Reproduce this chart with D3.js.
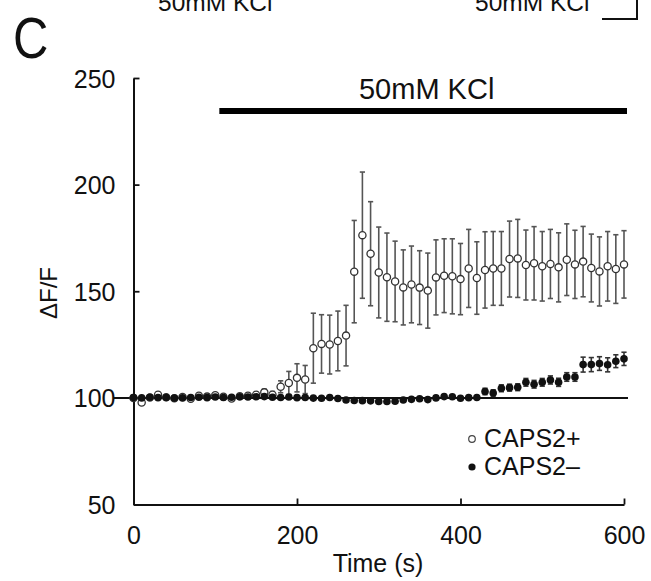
<!DOCTYPE html>
<html><head><meta charset="utf-8">
<script src="https://cdn.jsdelivr.net/npm/d3@7/dist/d3.min.js"></script>
<style>body{margin:0;background:#fff}svg{display:block}text{font-family:"Liberation Sans",Arial,Helvetica,sans-serif;fill:#111}</style>
</head><body>
<script>
// ---- data ----
const times = [0,10,20,30,40,50,60,70,80,90,100,110,120,130,140,150,160,170,180,190,200,210,220,230,240,250,260,270,280,290,300,310,320,330,340,350,360,370,380,390,400,410,420,430,440,450,460,470,480,490,500,510,520,530,540,550,560,570,580,590,600];
const capsPlus = [100.0,97.8,100.2,101.5,100.3,99.8,100.4,99.6,101.0,100.6,101.2,100.5,99.7,100.8,101.0,101.5,102.6,101.5,105.2,107.0,109.4,108.6,123.3,125.3,125.0,126.7,129.2,159.2,176.3,167.6,158.8,156.6,154.6,151.8,153.2,151.7,150.3,156.5,157.3,157.0,155.7,160.7,156.2,160.0,160.7,160.7,165.1,165.4,162.3,163.1,161.7,162.8,161.2,164.8,162.6,163.9,160.9,159.3,161.7,160.4,162.6];
const capsPlusErr = [1,1,1,1,1,1,1,1,1,1,1,1,1,1,1,1,1.5,1.5,2.8,5.4,6.6,6.6,16.4,13.7,13.8,14.0,14.2,24.0,29.6,24.4,21.3,20.7,18.9,17.6,18.0,17.3,17.6,17.6,17.3,17.6,16.7,18.3,17.0,17.9,17.3,17.3,17.8,18.3,16.4,17.2,16.3,16.2,16.2,16.8,16.0,16.5,15.9,16.2,16.3,16.1,15.8];
const capsMinus = [100.2,100.0,100.3,100.1,100.2,99.9,100.0,100.2,100.3,100.1,100.4,100.2,100.3,100.5,100.4,100.5,100.6,100.3,100.2,100.4,100.1,100.2,99.9,99.8,100.2,99.7,99.0,98.8,98.7,98.6,98.3,98.3,98.4,99.0,99.3,99.6,99.2,100.0,100.6,100.5,99.8,100.1,100.2,103.0,102.3,104.5,104.8,105.0,107.3,106.4,107.3,108.4,107.3,109.8,109.8,115.6,115.6,116.1,115.5,117.2,118.3];
const capsMinusErr = [0.6,0.6,0.6,0.6,0.6,0.6,0.6,0.6,0.6,0.6,0.6,0.6,0.6,0.6,0.6,0.6,0.6,0.6,0.6,0.6,0.6,0.6,0.6,0.6,0.6,0.6,0.7,0.7,0.7,0.7,0.7,0.7,0.7,0.7,0.7,0.7,0.7,0.7,0.7,0.7,0.8,0.8,0.8,1.5,1.5,1.6,1.6,1.6,1.8,1.8,1.8,1.9,1.9,2.0,2.0,3.5,3.3,3.2,3.3,3.0,3.1];
const xTicks = [0,200,400,600];
const yTicks = [50,100,150,200,250];
const seriesNames = ["CAPS2+","CAPS2\u2013"];
const stimulus = {label:"50mM KCl", start:105, end:600};

// ---- chart ----
const W=651,H=581;
const svg=d3.select("body").append("svg").attr("width",W).attr("height",H);
svg.append("rect").attr("width",W).attr("height",H).attr("fill","#fff");
const x=d3.scaleLinear().domain([0,600]).range([133.5,624]);
const y=d3.scaleLinear().domain([50,250]).range([504.5,78]);

// cut-off remnants of the panel above
svg.append("text").attr("x",158).attr("y",11).attr("font-size",24.5).text("50mM KCl");
svg.append("text").attr("x",475).attr("y",11).attr("font-size",24.5).text("50mM KCl");
svg.append("path").attr("d","M602,19H637V0").attr("fill","none").attr("stroke","#111").attr("stroke-width",2);

// panel letter
svg.append("text").attr("transform","translate(13,58) scale(0.86,1)").attr("font-size",57).text("C");

// axes
const xAxis=d3.axisBottom(x).tickValues(xTicks).tickSizeInner(-6).tickSizeOuter(0).tickPadding(22);
const yAxis=d3.axisLeft(y).tickValues(yTicks).tickSizeInner(-6).tickSizeOuter(0).tickPadding(18);
const gx=svg.append("g").attr("transform",`translate(0,${y(50)})`).call(xAxis);
const gy=svg.append("g").attr("transform",`translate(${x(0)},0)`).call(yAxis);
[gx,gy].forEach(g=>{
  g.select(".domain").attr("stroke","#111").attr("stroke-width",2);
  g.selectAll(".tick line").attr("stroke","#111").attr("stroke-width",1.8);
  g.selectAll(".tick text").attr("font-size",25).attr("font-family",'"Liberation Sans",Arial,sans-serif').attr("fill","#111");
});
gy.selectAll(".tick text").attr("dy","0.36em");
gx.selectAll(".tick text").attr("dy","0.71em");

// axis titles
svg.append("text").attr("x",378).attr("y",572).attr("text-anchor","middle").attr("font-size",25).text("Time (s)");
svg.append("text").attr("transform",`translate(57,293) rotate(-90)`).attr("text-anchor","middle").attr("font-size",24).text("\u0394F/F");

// stimulus bar
svg.append("line").attr("x1",x(stimulus.start)).attr("x2",x(stimulus.end)+3).attr("y1",111).attr("y2",111).attr("stroke","#000").attr("stroke-width",6);
svg.append("text").attr("x",(x(stimulus.start)+x(stimulus.end))/2+5).attr("y",99).attr("text-anchor","middle").attr("font-size",29).text(stimulus.label);

// reference line at 100
svg.append("line").attr("x1",113).attr("x2",x(600)+4).attr("y1",y(100)).attr("y2",y(100)).attr("stroke","#111").attr("stroke-width",2);

function errorBars(vals,errs,color,cls){
  const g=svg.append("g").attr("class",cls);
  const d=times.map((t,i)=>({t,v:vals[i],e:errs[i]}));
  g.selectAll("line.v").data(d).join("line").attr("class","v")
    .attr("x1",d=>x(d.t)).attr("x2",d=>x(d.t)).attr("y1",d=>y(d.v-d.e)).attr("y2",d=>y(d.v+d.e))
    .attr("stroke",color).attr("stroke-width",1.6);
  ["lo","hi"].forEach(k=>{
    g.selectAll("line."+k).data(d).join("line").attr("class",k)
      .attr("x1",d=>x(d.t)-2.6).attr("x2",d=>x(d.t)+2.6)
      .attr("y1",d=>y(k==="lo"?d.v-d.e:d.v+d.e)).attr("y2",d=>y(k==="lo"?d.v-d.e:d.v+d.e))
      .attr("stroke",color).attr("stroke-width",1.6);
  });
}
errorBars(capsPlus,capsPlusErr,"#555","errPlus");
svg.append("g").selectAll("circle").data(times).join("circle")
  .attr("cx",(t)=>x(t)).attr("cy",(t,i)=>y(capsPlus[i])).attr("r",3.6)
  .attr("fill","#fff").attr("stroke","#333").attr("stroke-width",1.3);
errorBars(capsMinus,capsMinusErr,"#333","errMinus");
svg.append("g").selectAll("circle").data(times).join("circle")
  .attr("cx",(t)=>x(t)).attr("cy",(t,i)=>y(capsMinus[i])).attr("r",3.8)
  .attr("fill","#111");

// legend
const lg=svg.append("g");
lg.append("circle").attr("cx",472).attr("cy",439).attr("r",3.3).attr("fill","#fff").attr("stroke","#444").attr("stroke-width",1.2);
lg.append("text").attr("x",484).attr("y",447).attr("font-size",25).text(seriesNames[0]);
lg.append("circle").attr("cx",472).attr("cy",467).attr("r",3.6).attr("fill","#111");
lg.append("text").attr("x",484).attr("y",475).attr("font-size",25).text(seriesNames[1]);
</script>
</body></html>
